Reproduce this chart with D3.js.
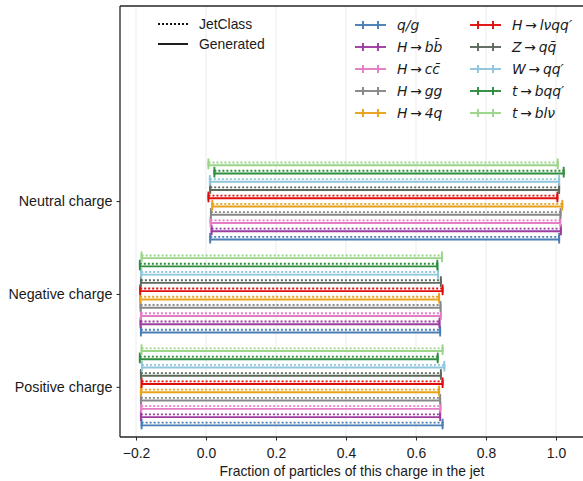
<!DOCTYPE html>
<html>
<head>
<meta charset="utf-8">
<script src="https://cdn.jsdelivr.net/npm/d3@7"></script>
<style>
  body { margin: 0; background: #fff; }
  text { font-family: "Liberation Sans", Arial, sans-serif; font-size: 13.9px; fill: #1a1a1a; }
</style>
</head>
<body>
<svg id="chart" width="583" height="481"></svg>
<script>
// categories bottom -> top
let categories = ["Positive charge", "Negative charge", "Neutral charge"]
let classes = ["q/g", "H→bb\u0304", "H→cc\u0304", "H→gg", "H→4q", "H→lνqq′", "Z→qq\u0304", "W→qq′", "t→bqq′", "t→blν"]
let colors = ["#4a7eb6", "#9c3ea1", "#e57cc6", "#878787", "#e8a11a", "#e00d0d", "#5c695c", "#8ec6db", "#2e8d3e", "#9ad589"]
let xTicks = [-0.2, 0.0, 0.2, 0.4, 0.6, 0.8, 1.0]

// JetClass (dotted) ranges
let jetPosLo = [-0.184, -0.186, -0.185, -0.186, -0.186, -0.184, -0.186, -0.183, -0.189, -0.184]
let jetPosHi = [0.676, 0.669, 0.670, 0.669, 0.666, 0.676, 0.671, 0.681, 0.662, 0.676]
let jetNegLo = [-0.186, -0.187, -0.186, -0.187, -0.188, -0.188, -0.186, -0.185, -0.189, -0.184]
let jetNegHi = [0.669, 0.667, 0.671, 0.670, 0.666, 0.676, 0.671, 0.663, 0.661, 0.674]
let jetNeuLo = [0.012, 0.016, 0.013, 0.014, 0.018, 0.007, 0.012, 0.011, 0.024, 0.007]
let jetNeuHi = [1.009, 1.014, 1.012, 1.013, 1.018, 1.004, 1.009, 1.009, 1.022, 1.005]

// Generated (solid) ranges
let genPosLo = [-0.184, -0.186, -0.185, -0.186, -0.186, -0.184, -0.186, -0.183, -0.189, -0.184]
let genPosHi = [0.676, 0.669, 0.670, 0.669, 0.666, 0.676, 0.671, 0.681, 0.662, 0.676]
let genNegLo = [-0.186, -0.187, -0.186, -0.187, -0.188, -0.188, -0.186, -0.185, -0.189, -0.184]
let genNegHi = [0.669, 0.667, 0.671, 0.670, 0.666, 0.676, 0.671, 0.663, 0.661, 0.674]
let genNeuLo = [0.012, 0.016, 0.013, 0.014, 0.018, 0.007, 0.012, 0.011, 0.024, 0.007]
let genNeuHi = [1.009, 1.014, 1.012, 1.013, 1.018, 1.004, 1.009, 1.009, 1.022, 1.005]

let svg = d3.select("#chart")
let pLeft = 120, pRight = 584, pTop = 6, pBottom = 437
let lw = 1.9

let xScale = d3.scaleLinear().domain([-0.2457, 1.08]).range([pLeft, pRight])
let yScale = d3.scaleLinear().domain([-0.54, 4.1]).range([pBottom, pTop])

// build rows
let ranges = [
  [[jetPosLo, jetPosHi], [genPosLo, genPosHi]],
  [[jetNegLo, jetNegHi], [genNegLo, genNegHi]],
  [[jetNeuLo, jetNeuHi], [genNeuLo, genNeuHi]]
]
let rows = []
categories.forEach((c, ci) => {
  classes.forEach((k, i) => {
    let off = -0.4 + i * 0.8 / 9
    ranges[ci].forEach((r, s) => {
      rows.push({ cat: ci, cls: i, series: s, y: ci + off + (s == 0 ? 0.0145 : -0.0145), lo: r[0][i], hi: r[1][i] })
    })
  })
})

// grid
svg.append("g").selectAll("line")
  .data(xTicks)
  .enter().append("line")
  .attr("x1", d => xScale(d)).attr("x2", d => xScale(d))
  .attr("y1", pTop).attr("y2", pBottom)
  .attr("stroke", "#ebebeb").attr("stroke-width", 1)

// axes
let xAxis = d3.axisBottom(xScale).tickValues(xTicks).tickSize(3.5).tickPadding(3.5)
  .tickFormat(d => d3.format(".1f")(d).replace("-", "\u2212"))
let xAxisGroup = svg.append("g").attr("transform", `translate(0, ${pBottom})`).call(xAxis)
let yAxis = d3.axisLeft(yScale).tickValues([0, 1, 2]).tickSize(3.5).tickPadding(4)
  .tickFormat(d => categories[d])
let yAxisGroup = svg.append("g").attr("transform", `translate(${pLeft}, 0)`).call(yAxis)

svg.selectAll(".domain").remove()
svg.selectAll(".tick line").attr("stroke", "#262626").attr("stroke-width", 1)
svg.selectAll(".tick text").attr("font-size", null).attr("font-family", null).style("fill", "#1a1a1a")
xAxisGroup.selectAll(".tick text").attr("dy", null).attr("y", 21)
yAxisGroup.selectAll(".tick text").style("font-size", "14.3px")

// bars
let bars = svg.append("g").selectAll("g.bar")
  .data(rows)
  .enter().append("g").attr("class", "bar")
bars.append("line")
  .attr("x1", d => xScale(d.lo)).attr("x2", d => xScale(d.hi))
  .attr("y1", d => yScale(d.y)).attr("y2", d => yScale(d.y))
  .attr("stroke", d => colors[d.cls]).attr("stroke-width", lw)
  .attr("stroke-dasharray", d => d.series == 0 ? "2,2" : null)
bars.selectAll("line.cap")
  .data(d => [{ x: d.lo, y: d.y, c: d.cls }, { x: d.hi, y: d.y, c: d.cls }])
  .enter().append("line").attr("class", "cap")
  .attr("x1", d => xScale(d.x)).attr("x2", d => xScale(d.x))
  .attr("y1", d => yScale(d.y) - 4).attr("y2", d => yScale(d.y) + 4)
  .attr("stroke", d => colors[d.c]).attr("stroke-width", lw)

// frame
svg.append("line").attr("x1", pLeft).attr("x2", pLeft).attr("y1", pTop).attr("y2", pBottom)
  .attr("stroke", "#262626").attr("stroke-width", 1.3)
svg.append("line").attr("x1", pLeft).attr("x2", 583).attr("y1", pBottom).attr("y2", pBottom)
  .attr("stroke", "#262626").attr("stroke-width", 1.3)
svg.append("line").attr("x1", pLeft).attr("x2", 583).attr("y1", pTop).attr("y2", pTop)
  .attr("stroke", "#262626").attr("stroke-width", 1.5)

svg.append("text")
  .attr("x", (pLeft + pRight) / 2).attr("y", 476)
  .attr("text-anchor", "middle")
  .text("Fraction of particles of this charge in the jet")

// style legend
let styleLeg = svg.append("g")
let styles = [["JetClass", "2,2"], ["Generated", null]]
styles.forEach((s, i) => {
  let yy = 24 + i * 20
  styleLeg.append("line").attr("x1", 158).attr("x2", 188).attr("y1", yy).attr("y2", yy)
    .attr("stroke", "#111").attr("stroke-width", lw).attr("stroke-dasharray", s[1])
  styleLeg.append("text").attr("x", 199).attr("y", yy + 5).text(s[0])
})

// class legend
function mathLabel(t, label) {
  let parts = label.split("→")
  t.append("tspan").attr("font-family", "DejaVu Sans").attr("font-style", "italic").text(parts[0])
  if (parts.length > 1) {
    t.append("tspan").attr("font-family", "DejaVu Sans").text("\u2009→\u2009")
    t.append("tspan").attr("font-family", "DejaVu Sans").attr("font-style", "italic").text(parts[1])
  }
}
let classLeg = svg.append("g")
classes.forEach((k, i) => {
  let col = Math.floor(i / 5), r = i % 5
  let x0 = col == 0 ? 355 : 470
  let yy = 25 + r * 22
  classLeg.append("line").attr("x1", x0).attr("x2", x0 + 31).attr("y1", yy).attr("y2", yy)
    .attr("stroke", colors[i]).attr("stroke-width", lw)
  ;[8, 23].forEach(dx => {
    classLeg.append("line").attr("x1", x0 + dx).attr("x2", x0 + dx).attr("y1", yy - 4).attr("y2", yy + 4)
      .attr("stroke", colors[i]).attr("stroke-width", lw)
  })
  let t = classLeg.append("text").attr("x", x0 + 42).attr("y", yy + 5)
  mathLabel(t, k)
})
</script>
</body>
</html>
